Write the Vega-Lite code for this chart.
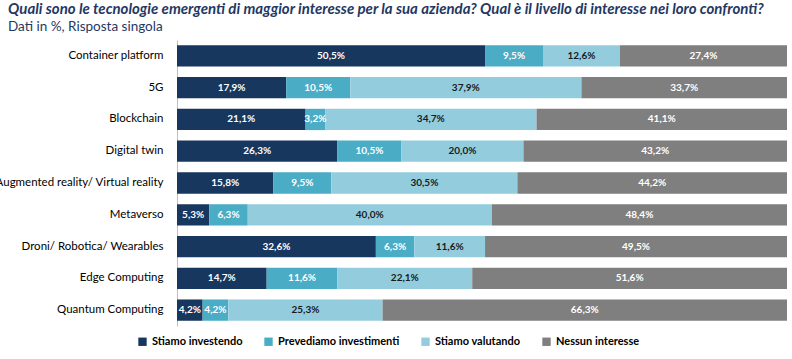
{
  "$schema": "https://vega.github.io/schema/vega-lite/v6.json",
  "autosize": {"type": "none"},
  "width": 610,
  "height": 286,
  "padding": {"left": 177, "top": 40, "right": 5, "bottom": 33},
  "background": "white",
  "title": {
    "text": "Quali sono le tecnologie emergenti di maggior interesse per la sua azienda? Qual è il livello di interesse nei loro confronti?",
    "subtitle": "Dati in %, Risposta singola",
    "anchor": "start",
    "frame": "group",
    "dx": -169,
    "offset": 7,
    "font": "Lato",
    "fontSize": 15,
    "fontWeight": "bold",
    "fontStyle": "italic",
    "color": "#1F3864",
    "subtitleFont": "Lato",
    "subtitleFontSize": 13.5,
    "subtitleColor": "#1F3864",
    "subtitlePadding": 3
  },
  "data": {
    "values": [
      {"t": "Container platform", "s": "Stiamo investendo", "v": 50.5},
      {"t": "Container platform", "s": "Prevediamo investimenti", "v": 9.5},
      {"t": "Container platform", "s": "Stiamo valutando", "v": 12.6},
      {"t": "Container platform", "s": "Nessun interesse", "v": 27.4},
      {"t": "5G", "s": "Stiamo investendo", "v": 17.9},
      {"t": "5G", "s": "Prevediamo investimenti", "v": 10.5},
      {"t": "5G", "s": "Stiamo valutando", "v": 37.9},
      {"t": "5G", "s": "Nessun interesse", "v": 33.7},
      {"t": "Blockchain", "s": "Stiamo investendo", "v": 21.1},
      {"t": "Blockchain", "s": "Prevediamo investimenti", "v": 3.2},
      {"t": "Blockchain", "s": "Stiamo valutando", "v": 34.7},
      {"t": "Blockchain", "s": "Nessun interesse", "v": 41.1},
      {"t": "Digital twin", "s": "Stiamo investendo", "v": 26.3},
      {"t": "Digital twin", "s": "Prevediamo investimenti", "v": 10.5},
      {"t": "Digital twin", "s": "Stiamo valutando", "v": 20.0},
      {"t": "Digital twin", "s": "Nessun interesse", "v": 43.2},
      {"t": "Augmented reality/ Virtual reality", "s": "Stiamo investendo", "v": 15.8},
      {"t": "Augmented reality/ Virtual reality", "s": "Prevediamo investimenti", "v": 9.5},
      {"t": "Augmented reality/ Virtual reality", "s": "Stiamo valutando", "v": 30.5},
      {"t": "Augmented reality/ Virtual reality", "s": "Nessun interesse", "v": 44.2},
      {"t": "Metaverso", "s": "Stiamo investendo", "v": 5.3},
      {"t": "Metaverso", "s": "Prevediamo investimenti", "v": 6.3},
      {"t": "Metaverso", "s": "Stiamo valutando", "v": 40.0},
      {"t": "Metaverso", "s": "Nessun interesse", "v": 48.4},
      {"t": "Droni/ Robotica/ Wearables", "s": "Stiamo investendo", "v": 32.6},
      {"t": "Droni/ Robotica/ Wearables", "s": "Prevediamo investimenti", "v": 6.3},
      {"t": "Droni/ Robotica/ Wearables", "s": "Stiamo valutando", "v": 11.6},
      {"t": "Droni/ Robotica/ Wearables", "s": "Nessun interesse", "v": 49.5},
      {"t": "Edge Computing", "s": "Stiamo investendo", "v": 14.7},
      {"t": "Edge Computing", "s": "Prevediamo investimenti", "v": 11.6},
      {"t": "Edge Computing", "s": "Stiamo valutando", "v": 22.1},
      {"t": "Edge Computing", "s": "Nessun interesse", "v": 51.6},
      {"t": "Quantum Computing", "s": "Stiamo investendo", "v": 4.2},
      {"t": "Quantum Computing", "s": "Prevediamo investimenti", "v": 4.2},
      {"t": "Quantum Computing", "s": "Stiamo valutando", "v": 25.3},
      {"t": "Quantum Computing", "s": "Nessun interesse", "v": 66.3}
    ]
  },
  "transform": [
    {"calculate": "indexof(['Stiamo investendo', 'Prevediamo investimenti', 'Stiamo valutando', 'Nessun interesse'], datum.s)", "as": "ord"}
  ],
  "encoding": {
    "y": {
      "field": "t",
      "type": "nominal",
      "sort": null,
      "scale": {"paddingInner": 0.33, "paddingOuter": 0.165},
      "axis": {
        "title": null,
        "ticks": false,
        "domain": true,
        "domainColor": "#BFBFBF",
        "labelPadding": 14,
        "labelFont": "Lato",
        "labelFontSize": 11.5,
        "labelColor": "#000000",
        "labelLimit": 400
      }
    },
    "x": {
      "field": "v",
      "type": "quantitative",
      "stack": "normalize",
      "scale": {"domain": [0, 1]},
      "axis": null
    },
    "order": {"field": "ord", "type": "quantitative", "sort": "ascending"}
  },
  "layer": [
    {
      "mark": {"type": "bar"},
      "encoding": {
        "color": {
          "field": "s",
          "type": "nominal",
          "sort": ["Stiamo investendo", "Prevediamo investimenti", "Stiamo valutando", "Nessun interesse"],
          "scale": {
            "domain": ["Stiamo investendo", "Prevediamo investimenti", "Stiamo valutando", "Nessun interesse"],
            "range": ["#17375E", "#4BACC6", "#93CDDD", "#7F7F7F"]
          },
          "legend": {
            "title": null,
            "orient": "none",
            "direction": "horizontal",
            "legendX": -40,
            "legendY": 296,
            "symbolType": "square",
            "symbolSize": 70,
            "symbolStrokeWidth": 0,
            "labelFont": "Lato",
            "labelFontSize": 11,
            "labelFontWeight": "bold",
            "labelColor": "#000000",
            "labelOffset": 4,
            "columnPadding": 20,
            "labelLimit": 300
          }
        }
      }
    },
    {
      "mark": {"type": "text", "font": "Lato", "fontSize": 10, "fontWeight": "bold",
        "text": {"expr": "replace(format(datum.v, '.1f'), '.', ',') + '%'"}},
      "encoding": {
        "x": {"field": "v", "type": "quantitative", "stack": "normalize", "bandPosition": 0.5},
        "detail": {"field": "s", "type": "nominal"},
        "color": {
          "condition": {"test": "datum.s === 'Stiamo valutando'", "value": "#1a1a1a"},
          "value": "#FFFFFF"
        }
      }
    }
  ],
  "config": {"view": {"stroke": null}}
}
